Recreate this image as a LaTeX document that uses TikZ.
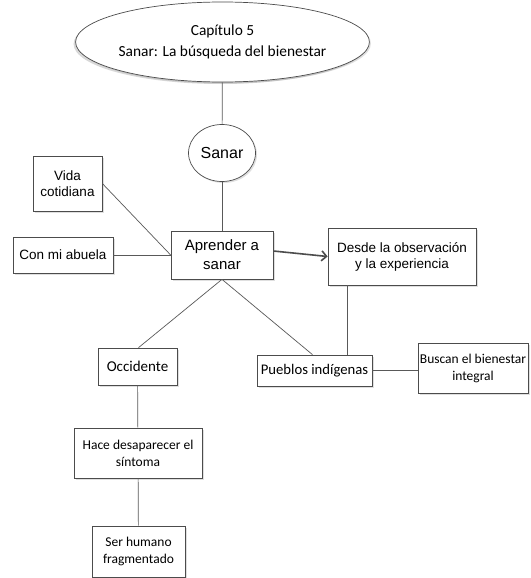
\documentclass[tikz,border=0pt]{standalone}
\usepackage{fontspec}
\setmainfont{Liberation Sans}
\newfontfamily\calib{Carlito}
\newfontfamily\arial{Liberation Sans}
\usetikzlibrary{shapes.geometric,arrows.meta,shadows}
\begin{document}
\begin{tikzpicture}[x=1pt,y=-1pt,
  shad/.style={drop shadow={opacity=0.25,shadow xshift=1.5pt,shadow yshift=-1.5pt}},
  box/.style={draw=black!70,line width=0.7pt,fill=white,rectangle,align=center,inner sep=1pt,shad},
  oval/.style={draw=black!70,line width=0.7pt,fill=white,ellipse,align=center,inner sep=0pt,shad},
  conn/.style={draw=black!65,line width=0.7pt},
  arialtxt/.style={font=\arial\fontsize{13.5}{16}\selectfont},
  calibtxt/.style={font=\calib\fontsize{13.5}{17}\selectfont},
]
\useasboundingbox[fill=white] (0,0) rectangle (530,578);

\node[oval,minimum width=213pt,minimum height=80pt,font=\calib\fontsize{15.4}{21}\selectfont,
  drop shadow={opacity=0.3,shadow xshift=-2pt,shadow yshift=-2pt}]
  (cap) at (222.5,42) {Capítulo 5\\Sanar: La búsqueda del bienestar};
\node[oval,minimum width=67pt,minimum height=57pt,font=\arial\fontsize{16}{19}\selectfont] (sanar) at (222,153) {Sanar};
\node[box,minimum width=102pt,minimum height=48pt,font=\arial\fontsize{15}{19}\selectfont] (apr) at (222,255) {Aprender a\\sanar};
\node[box,arialtxt,minimum width=69pt,minimum height=55pt] (vida) at (67.5,183.5) {Vida\\cotidiana};
\node[box,arialtxt,minimum width=100pt,minimum height=36pt] (abuela) at (63,255) {Con mi abuela};
\node[box,arialtxt,minimum width=148pt,minimum height=57pt] (desde) at (402,256.5) {Desde la observación\\y la experiencia};
\node[box,minimum width=115pt,minimum height=31pt,font=\calib\fontsize{14.7}{18}\selectfont] (pueblos) at (314.5,370.5) {Pueblos indígenas};
\node[box,calibtxt,minimum width=110pt,minimum height=50pt] (buscan) at (473,368) {Buscan el bienestar\\integral};
\node[box,minimum width=79pt,minimum height=37pt,font=\calib\fontsize{15}{18}\selectfont] (occ) at (137.5,366.5) {Occidente};
\node[box,calibtxt,minimum width=128pt,minimum height=50pt] (hace) at (138,453) {Hace desaparecer el\\síntoma};
\node[box,calibtxt,minimum width=93pt,minimum height=51pt] (ser) at (138.5,551.5) {Ser humano\\fragmentado};

\draw[conn] (cap) -- (sanar);
\draw[conn] (sanar) -- (apr);
\draw[conn] (vida.east) -- (apr.west);
\draw[conn] (abuela.east) -- (apr.west);
\draw[draw=black!70,line width=1.6pt,-{Straight Barb[length=5pt,width=10pt,line width=1.6pt]}] ([yshift=4pt]apr.east) -- (desde.west);
\draw[conn] (apr.south) -- ([xshift=1pt]occ.north);
\draw[conn] (apr.south) -- ([xshift=-2pt]pueblos.north);
\draw[conn] ([xshift=20pt]desde.south west) -- ([xshift=20pt]desde.south west |- pueblos.north);
\draw[conn] (pueblos.east) -- (pueblos.east -| buscan.west);
\draw[conn] (occ) -- (hace);
\draw[conn] (hace) -- (ser);
\end{tikzpicture}
\end{document}
